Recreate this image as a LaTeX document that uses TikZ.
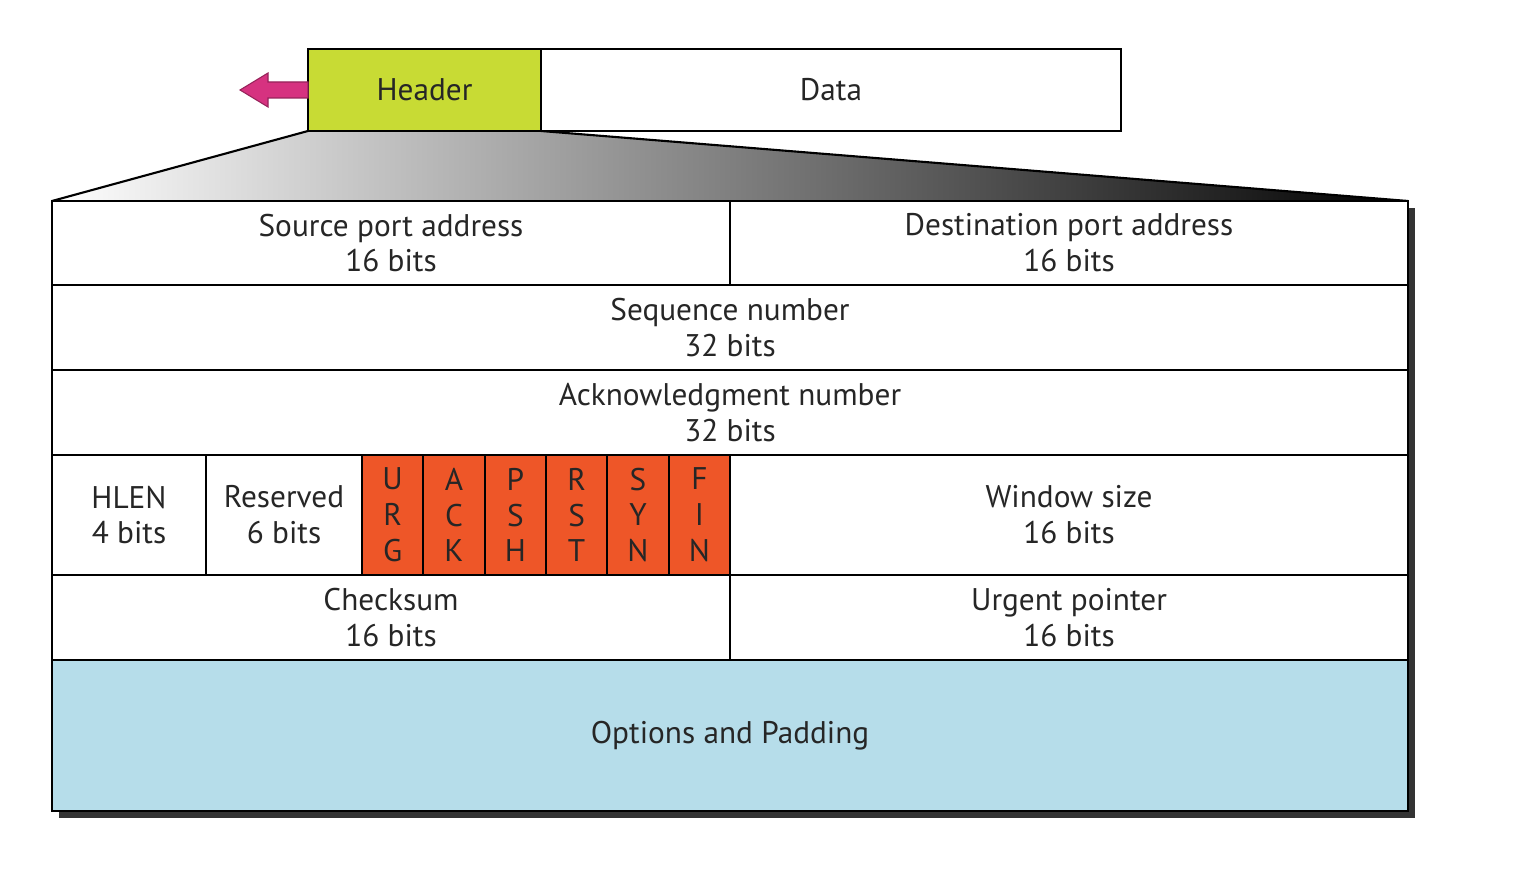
\documentclass[tikz,border=0pt]{standalone}
\usepackage{fontspec}
\setmainfont{PT Sans}
\usetikzlibrary{backgrounds}

\definecolor{hdrgreen}{RGB}{200,219,52}
\definecolor{flagred}{RGB}{238,86,40}
\definecolor{optblue}{RGB}{182,221,234}
\definecolor{arrowpink}{RGB}{214,50,128}

\begin{document}
\begin{tikzpicture}[font=\fontsize{8.9}{10.2}\selectfont,
    cell/.style={draw, line width=0.6pt, inner sep=0pt, outer sep=0pt, align=center, text=black!85},
    flag/.style={cell, fill=flagred, minimum width=0.613cm, minimum height=1.2cm}]
    \useasboundingbox (0,0) rectangle (15.22,-8.96);

    % Segment
    \node[cell, fill=hdrgreen, minimum width=2.33cm, minimum height=0.82cm] (hdr) at (4.245,-0.90) {Header};
    \node[cell, fill=white, minimum width=5.80cm, minimum height=0.82cm] (data) at (8.31,-0.90) {Data};

    % Header fields - rows 1 to 3
    \node[cell, fill=white, minimum width=6.78cm, minimum height=0.84cm] (src) at (3.91,-2.43) {Source port address\\16 bits};
    \node[cell, fill=white, minimum width=6.78cm, minimum height=0.84cm] (dst) at (10.69,-2.43) {Destination port address\\16 bits};
    \node[cell, fill=white, minimum width=13.56cm, minimum height=0.85cm] (seq) at (7.30,-3.275) {Sequence number\\32 bits};
    \node[cell, fill=white, minimum width=13.56cm, minimum height=0.85cm] (ack) at (7.30,-4.125) {Acknowledgment number\\32 bits};

    % Row 4
    \node[cell, fill=white, minimum width=1.54cm, minimum height=1.2cm] (hlen) at (1.29,-5.15) {HLEN\\4 bits};
    \node[cell, fill=white, minimum width=1.56cm, minimum height=1.2cm] (rsv) at (2.84,-5.15) {Reserved\\6 bits};
    \node[flag] (urg) at (3.9267,-5.15) {U\\R\\G};
    \node[flag] (ackf) at (4.54,-5.15) {A\\C\\K};
    \node[flag] (psh) at (5.1533,-5.15) {P\\S\\H};
    \node[flag] (rst) at (5.7667,-5.15) {R\\S\\T};
    \node[flag] (syn) at (6.38,-5.15) {S\\Y\\N};
    \node[flag] (fin) at (6.9933,-5.15) {F\\I\\N};
    \node[cell, fill=white, minimum width=6.78cm, minimum height=1.2cm] (win) at (10.69,-5.15) {Window size\\16 bits};

    % Rows 5 and 6
    \node[cell, fill=white, minimum width=6.78cm, minimum height=0.85cm] (chk) at (3.91,-6.175) {Checksum\\16 bits};
    \node[cell, fill=white, minimum width=6.78cm, minimum height=0.85cm] (urgp) at (10.69,-6.175) {Urgent pointer\\16 bits};
    \node[cell, fill=optblue, minimum width=13.56cm, minimum height=1.51cm] (opt) at (7.30,-7.355) {Options and Padding};

    % Arrow out of the header
    \fill[arrowpink, draw=arrowpink!70!black, line width=0.3pt] (hdr.west) ++(0,0.08) -- ++(-0.40,0) -- ++(0,0.09) -- ++(-0.28,-0.17)
        -- ++(0.28,-0.17) -- ++(0,0.09) -- ++(0.40,0) -- cycle;

    \begin{scope}[on background layer]
        % Shadow
        \fill[black!80] ([shift={(0.07,-0.07)}]opt.south west) rectangle ([shift={(0.07,-0.07)}]dst.north east);
        % Zoom wedge
        \shade[left color=white, right color=black] (hdr.south west) -- (hdr.south east) -- (dst.north east) -- (src.north west) -- cycle;
        \draw[line width=0.6pt] (src.north west) -- (hdr.south west);
        \draw[line width=0.6pt] (dst.north east) -- (hdr.south east);
    \end{scope}
\end{tikzpicture}
\end{document}
